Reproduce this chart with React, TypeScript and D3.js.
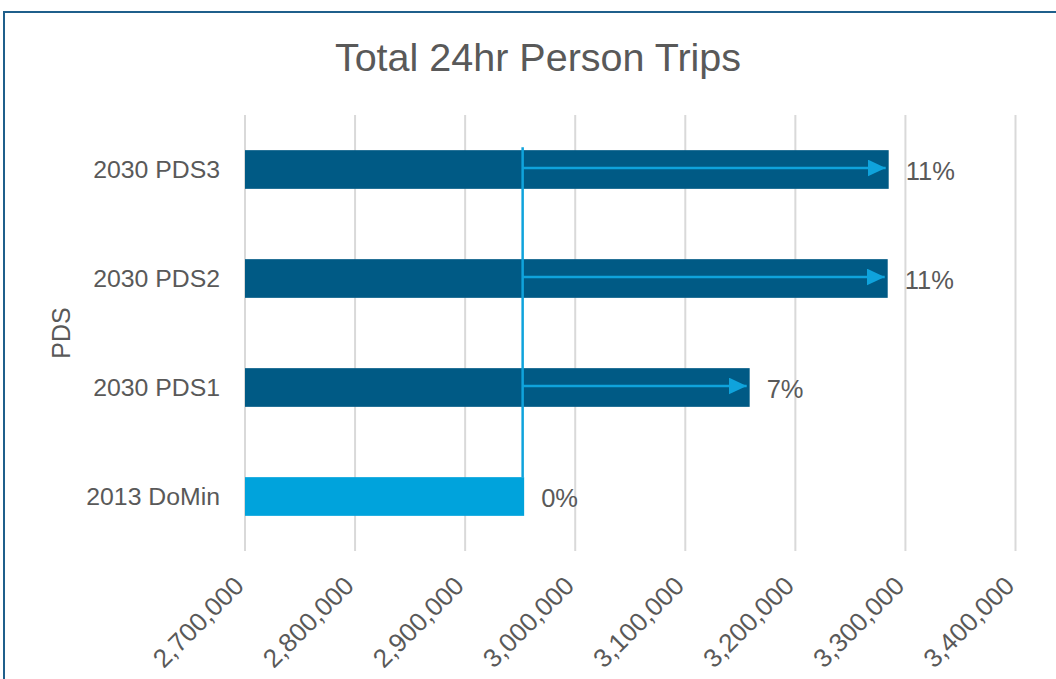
import React from "react";
import * as d3 from "d3";

const categories = ["2030 PDS3", "2030 PDS2", "2030 PDS1", "2013 DoMin"];
const values = [3284800, 3283900, 3158500, 2953600];
const pctLabels = ["11%", "11%", "7%", "0%"];
const baseCategory = "2013 DoMin";
const xTicks = [2700000, 2800000, 2900000, 3000000, 3100000, 3200000, 3300000, 3400000];

const W = 1056;
const H = 679;
const FONT = "'Liberation Sans', Arial, sans-serif";
const TEXT = "#595959";
const DARK = "#005a85";
const LIGHT = "#00a3dc";
const ARROW = "#0fa3dc";

export default function App() {
  const x = d3.scaleLinear().domain([2700000, 3400000]).range([245, 1015.5]);
  const y = d3
    .scaleBand<string>()
    .domain(categories)
    .range([115, 551])
    .paddingInner(0.645)
    .paddingOuter(0.3225);
  const fmt = d3.format(",");
  const baseIdx = categories.indexOf(baseCategory);
  const baseVal = values[baseIdx];
  const bx = x(baseVal) - 1.5;
  const topBand = y(categories[0])!;

  return (
    <svg
      width={W}
      height={H}
      style={{ position: "absolute", left: 0, top: 0, display: "block", background: "#fff" }}
      fontFamily={FONT}
    >
      <defs>
        <marker
          id="ah"
          viewBox="0 0 10 10"
          refX={10}
          refY={5}
          markerWidth={7.2}
          markerHeight={6.8}
          markerUnits="strokeWidth"
          orient="auto"
          preserveAspectRatio="none"
        >
          <path d="M0,0 L10,5 L0,10 Z" fill={ARROW} />
        </marker>
      </defs>
      <rect x={4} y={12} width={W + 10} height={H + 10} fill="#fff" stroke="#1f5f8b" strokeWidth={2} />
      <text x={538} y={71} textAnchor="middle" fontSize={39.5} fill={TEXT}>
        Total 24hr Person Trips
      </text>
      {xTicks.map((t) => (
        <line key={"g" + t} x1={x(t)} x2={x(t)} y1={115} y2={551} stroke="#d9d9d9" strokeWidth={2} />
      ))}
      {xTicks.map((t) => (
        <text
          key={"t" + t}
          transform={`translate(${x(t) - 6},${581}) rotate(-45)`}
          textAnchor="end"
          fontSize={26}
          fill={TEXT}
          dy="0.35em"
        >
          {fmt(t)}
        </text>
      ))}
      {categories.map((c, i) => (
        <g key={c}>
          <rect
            x={x(2700000)}
            y={y(c)!}
            width={x(values[i]) - x(2700000)}
            height={y.bandwidth()}
            fill={c === baseCategory ? LIGHT : DARK}
          />
          <text
            x={220}
            y={y(c)! + y.bandwidth() / 2}
            dy="0.35em"
            textAnchor="end"
            fontSize={24.8}
            fill={TEXT}
          >
            {c}
          </text>
          <text
            x={x(values[i]) + 17}
            y={y(c)! + y.bandwidth() / 2 + 2}
            dy="0.35em"
            fontSize={25.5}
            fill={TEXT}
          >
            {pctLabels[i]}
          </text>
        </g>
      ))}
      {categories.map((c, i) =>
        c === baseCategory ? null : (
          <line
            key={"a" + c}
            x1={bx}
            x2={x(values[i]) - 3}
            y1={y(c)! + y.bandwidth() / 2 - 1.5}
            y2={y(c)! + y.bandwidth() / 2 - 1.5}
            stroke={ARROW}
            strokeWidth={2.5}
            markerEnd="url(#ah)"
          />
        )
      )}
      <line
        x1={bx}
        x2={bx}
        y1={topBand - 3}
        y2={y(baseCategory)!}
        stroke={ARROW}
        strokeWidth={2.5}
      />
      <text
        transform={`translate(${70},${333}) rotate(-90)`}
        textAnchor="middle"
        fontSize={25}
        fill={TEXT}
      >
        PDS
      </text>
    </svg>
  );
}
